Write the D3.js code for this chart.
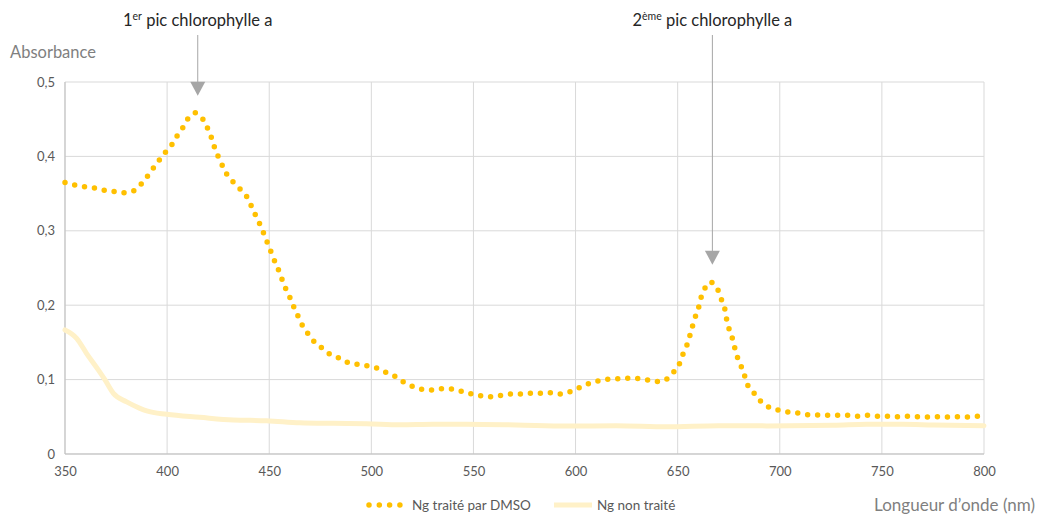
<!DOCTYPE html>
<html><head><meta charset="utf-8">
<script src="https://cdn.jsdelivr.net/npm/d3@7"></script>
<style>body{margin:0;background:#fff}svg{display:block}</style>
</head><body>
<svg id="c" width="1038" height="515"></svg>
<script>
const dmsoWl = [350,354.9,359.8,364.7,369.6,374.5,378.9,383.8,387.2,390.3,393.3,396.2,399.3,402.4,405,407.8,410.2,413.8,417.4,419.7,421.6,423.1,424.9,427,429.2,432.3,435.8,439,441.2,443.2,445.3,447.3,449.1,450.9,452.7,454.7,456.4,458.2,460.3,462.2,464.3,466.4,469.2,472.3,476,479.9,484.3,488.7,493.5,498.4,503.1,507.5,511.9,516.2,520.6,525.2,529.9,534.8,539.7,544.3,548.5,553.3,558.2,562.9,567.8,572.5,577.4,582.3,587.2,592.1,596.5,601.1,605.5,610.1,614.8,619.7,624.6,629.5,634.4,639.3,644.2,647.6,650.6,652.2,654.3,655.8,657.1,658.5,660.2,661.3,663.1,666.4,669.5,671.2,673,673.8,674.9,676.6,677.8,679.1,681,682.7,684.2,687.2,690.4,694.2,698.9,703.8,708.7,713.6,718.5,723.4,728.3,733.2,738.1,742.8,747.7,752.5,757.4,762.3,767.2,772.1,777,781.9,786.8,791.7,796.6,800];
const dmsoAbs = [0.365,0.3615,0.359,0.3575,0.3544,0.3526,0.3512,0.354,0.3625,0.373,0.3844,0.395,0.406,0.416,0.428,0.439,0.4507,0.4588,0.4507,0.4386,0.426,0.413,0.4005,0.388,0.376,0.3656,0.356,0.346,0.3337,0.3216,0.3095,0.2966,0.284,0.2715,0.259,0.2464,0.2339,0.2214,0.2093,0.1966,0.1841,0.172,0.1609,0.150,0.142,0.1335,0.129,0.1227,0.1205,0.1183,0.1151,0.1093,0.1039,0.0958,0.0904,0.0864,0.086,0.0878,0.0874,0.0842,0.081,0.0784,0.077,0.0784,0.0806,0.0806,0.0815,0.0815,0.0824,0.0806,0.0829,0.0883,0.0937,0.0977,0.1004,0.1008,0.1017,0.1017,0.0999,0.0972,0.0995,0.1085,0.1192,0.1317,0.1442,0.1573,0.1703,0.1832,0.1962,0.2093,0.2222,0.2316,0.2222,0.2093,0.1962,0.1832,0.1703,0.1573,0.1442,0.1313,0.1187,0.1058,0.0927,0.0824,0.0716,0.0636,0.0591,0.0565,0.0551,0.0529,0.0524,0.052,0.052,0.052,0.0506,0.052,0.0506,0.0506,0.050,0.0506,0.050,0.0497,0.050,0.0497,0.050,0.0497,0.0506,0.0506];
const rawWl = [350,355.7,360.6,366.3,369.6,373.7,380.2,386.7,390,399.8,416,432.4,448.7,465,481.4,497.7,514,530.4,546.7,571,595.7,620,644.7,670,693.7,726.3,742.6,760,775.3,800];
const rawAbs = [0.1667,0.1555,0.135,0.113,0.0995,0.0815,0.070,0.0614,0.058,0.0533,0.0493,0.0457,0.0448,0.042,0.0412,0.0407,0.0394,0.040,0.040,0.039,0.0375,0.038,0.0365,0.038,0.0378,0.0385,0.040,0.040,0.039,0.038];
const xTicks = [350,400,450,500,550,600,650,700,750,800];
const yTicks = [0,0.1,0.2,0.3,0.4,0.5];
const yTickLabels = ["0","0,1","0,2","0,3","0,4","0,5"];
const seriesNames = ["Ng traité par DMSO","Ng non traité"];
const peaks = [{wl:415, sup:"er", label:" pic chlorophylle a", num:"1", abs:0.4588},
               {wl:667, sup:"ème", label:" pic chlorophylle a", num:"2", abs:0.2316}];

const svg = d3.select("#c");
const font = "Lato, 'Open Sans', sans-serif";
const x = d3.scaleLinear().domain([350,800]).range([65,984]);
const y = d3.scaleLinear().domain([0,0.5]).range([454,82]);

// grid
svg.append("g").selectAll("line").data(xTicks).join("line")
  .attr("x1",d=>x(d)).attr("x2",d=>x(d)).attr("y1",y(0.5)).attr("y2",y(0))
  .attr("stroke","#d9d9d9").attr("stroke-width",1);
svg.append("g").selectAll("line").data(yTicks).join("line")
  .attr("x1",x(350)).attr("x2",x(800)).attr("y1",d=>y(d)).attr("y2",d=>y(d))
  .attr("stroke","#d9d9d9").attr("stroke-width",1);
svg.append("line").attr("x1",x(350)).attr("x2",x(350)).attr("y1",y(0.5)).attr("y2",y(0)).attr("stroke","#bfbfbf");
svg.append("line").attr("x1",x(350)).attr("x2",x(800)).attr("y1",y(0)).attr("y2",y(0)).attr("stroke","#bfbfbf");

// axes
const xAxis = svg.append("g").attr("transform",`translate(0,${y(0)})`)
  .call(d3.axisBottom(x).tickValues(xTicks).tickSize(0).tickPadding(13));
const yAxis = svg.append("g").attr("transform",`translate(${x(350)},0)`)
  .call(d3.axisLeft(y).tickValues(yTicks).tickSize(0).tickPadding(10).tickFormat((d,i)=>yTickLabels[i]));
[xAxis,yAxis].forEach(a=>{a.select(".domain").remove();
  a.selectAll("text").attr("fill","#595959").style("font-family",font).style("font-size","13px");});

// series
svg.append("path").datum(rawWl.map((w,i)=>[w,rawAbs[i]]))
  .attr("d",d3.line().x(d=>x(d[0])).y(d=>y(d[1])).curve(d3.curveMonotoneX)).attr("fill","none")
  .attr("stroke","#fff1c8").attr("stroke-width",5).attr("stroke-linejoin","round").attr("stroke-linecap","round");
svg.append("path").datum(dmsoWl.map((w,i)=>[w,dmsoAbs[i]]))
  .attr("d",d3.line().x(d=>x(d[0])).y(d=>y(d[1]))).attr("fill","none")
  .attr("stroke","#ffc000").attr("stroke-width",5.5).attr("stroke-linecap","round")
  .attr("stroke-dasharray","0 10");

// annotations
peaks.forEach(p=>{
  const px = x(p.wl);
  const tipY = y(p.abs) - 17;
  const t = svg.append("text").attr("y",26).attr("text-anchor","middle")
    .attr("fill","#262626").style("font-family",font).style("font-size","16.5px");
  t.append("tspan").text(p.num);
  t.append("tspan").text(p.sup).attr("dy",-6).style("font-size","10.5px");
  t.append("tspan").text(p.label).attr("dy",6);
  t.attr("x",px);
  svg.append("line").attr("x1",px).attr("x2",px).attr("y1",35).attr("y2",tipY-12)
    .attr("stroke","#a6a6a6").attr("stroke-width",1);
  svg.append("path").attr("d",`M${px-7.5},${tipY-14}L${px+7.5},${tipY-14}L${px},${tipY}Z`).attr("fill","#a6a6a6");
});

// axis titles
svg.append("text").attr("x",10).attr("y",58).text("Absorbance")
  .attr("fill","#7f7f7f").style("font-family",font).style("font-size","16.5px");
svg.append("text").attr("x",1035).attr("y",511).attr("text-anchor","end").text("Longueur d’onde (nm)")
  .attr("fill","#7f7f7f").style("font-family",font).style("font-size","17px");

// legend
const ly = 505;
svg.append("line").attr("x1",369).attr("x2",400).attr("y1",ly).attr("y2",ly)
  .attr("stroke","#ffc000").attr("stroke-width",5.5).attr("stroke-linecap","round").attr("stroke-dasharray","0 10.3");
svg.append("text").attr("x",412).attr("y",ly+4.5).text(seriesNames[0])
  .attr("fill","#595959").style("font-family",font).style("font-size","13.5px");
svg.append("line").attr("x1",554).attr("x2",592).attr("y1",ly).attr("y2",ly)
  .attr("stroke","#fff1c8").attr("stroke-width",5);
svg.append("text").attr("x",597).attr("y",ly+4.5).text(seriesNames[1])
  .attr("fill","#595959").style("font-family",font).style("font-size","13.5px");
</script>
</body></html>
